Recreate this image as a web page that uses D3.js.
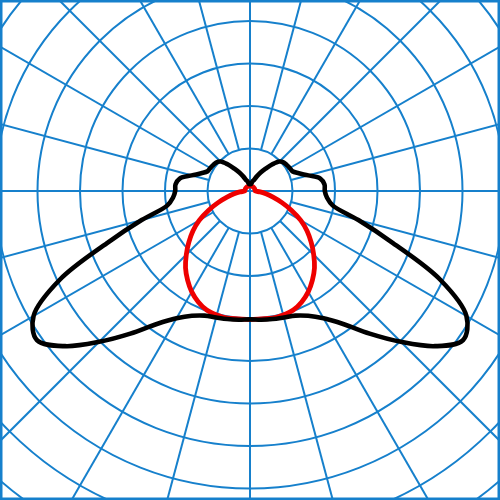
<!DOCTYPE html>
<html>
<head>
<meta charset="utf-8">
<script src="https://cdn.jsdelivr.net/npm/d3@7"></script>
<style>
  body { margin: 0; background: #fff; }
  svg { display: block; }
</style>
</head>
<body>
<svg width="500" height="500"></svg>
<script>
// gamma angles (deg, 0 = straight down)
var gamma = [0, 5, 10, 15, 20, 25, 30, 35, 40, 45, 50, 55, 60, 65, 70, 75, 80, 85, 90,
             95, 100, 105, 110, 115, 120, 125, 130, 135, 140, 145, 150, 155, 160, 165, 170, 175, 180];

// C0-C180 plane (black), cd/klm
var planeC0 = [151, 152, 153, 154, 156, 162, 173, 191, 219, 251, 284, 306, 294, 247, 179, 132, 99, 91, 88,
               88, 84, 71, 61, 55, 54, 53, 52, 49, 41, 32, 25, 19, 14, 12, 9, 8, 8];

// C90-C270 plane (red), cd/klm
var planeC90 = [151, 151, 152, 151, 149, 144, 137, 128, 118, 106, 94, 82, 69, 54, 40, 28, 19, 12, 6,
                6, 6, 6, 6, 6, 6, 6, 6, 6, 6, 6, 6, 6, 6, 6, 6, 6, 6];

var rings = [50, 100, 150, 200, 250, 300, 350, 400, 450, 500];
var spokes = [15, 30, 45, 60, 75, 105, 120, 135, 150, 165, 195, 210, 225, 240, 255, 285, 300, 315, 330, 345];

var width = 500, height = 500;
var cx = 250, cy = 191;
var gridColor = '#1680cc';

var r = d3.scaleLinear()
  .domain([0, 50])
  .range([0, 42.5]);

var svg = d3.select('svg');

svg.append('rect')
  .attr('width', width)
  .attr('height', height)
  .attr('fill', '#fff');

var g = svg.append('g')
  .attr('transform', 'translate(' + cx + ',' + cy + ')');

// rings
g.selectAll('circle.ring')
  .data(rings)
  .enter()
  .append('circle')
    .attr('class', 'ring')
    .attr('r', function(d) { return r(d); })
    .attr('fill', 'none')
    .attr('stroke', gridColor)
    .attr('stroke-width', 2);

// spokes start at the first ring
g.selectAll('line.spoke')
  .data(spokes)
  .enter()
  .append('line')
    .attr('class', 'spoke')
    .attr('x1', function(d) { return r(rings[0]) * Math.sin(d * Math.PI / 180); })
    .attr('y1', function(d) { return r(rings[0]) * Math.cos(d * Math.PI / 180); })
    .attr('x2', function(d) { return 700 * Math.sin(d * Math.PI / 180); })
    .attr('y2', function(d) { return 700 * Math.cos(d * Math.PI / 180); })
    .attr('stroke', gridColor)
    .attr('stroke-width', 2);

// main axes go through the centre
g.append('line')
  .attr('x1', 0).attr('x2', 0)
  .attr('y1', -cy).attr('y2', height - cy)
  .attr('stroke', gridColor)
  .attr('stroke-width', 2);
g.append('line')
  .attr('x1', -cx).attr('x2', width - cx)
  .attr('y1', 0).attr('y2', 0)
  .attr('stroke', gridColor)
  .attr('stroke-width', 2);

// mirror a half plane into a closed curve for lineRadial (angle 0 = up, clockwise)
function fullCurve(values) {
  var pts = [];
  for (var i = gamma.length - 1; i >= 0; i--) {
    pts.push([Math.PI - gamma[i] * Math.PI / 180, values[i]]);
  }
  for (var j = 1; j < gamma.length - 1; j++) {
    pts.push([Math.PI + gamma[j] * Math.PI / 180, values[j]]);
  }
  return pts;
}

var curve = d3.lineRadial()
  .angle(function(d) { return d[0]; })
  .radius(function(d) { return r(d[1]); })
  .curve(d3.curveCatmullRomClosed);

g.append('path')
  .attr('d', curve(fullCurve(planeC90)))
  .attr('fill', 'none')
  .attr('stroke', '#ee0000')
  .attr('stroke-width', 4.8)
  .attr('stroke-linejoin', 'round');

g.append('path')
  .attr('d', curve(fullCurve(planeC0)))
  .attr('fill', 'none')
  .attr('stroke', '#000')
  .attr('stroke-width', 4.6)
  .attr('stroke-linejoin', 'round');

// frame
svg.append('rect')
  .attr('x', 1).attr('y', 1)
  .attr('width', width - 2)
  .attr('height', height - 2)
  .attr('fill', 'none')
  .attr('stroke', gridColor)
  .attr('stroke-width', 3);
</script>
</body>
</html>
